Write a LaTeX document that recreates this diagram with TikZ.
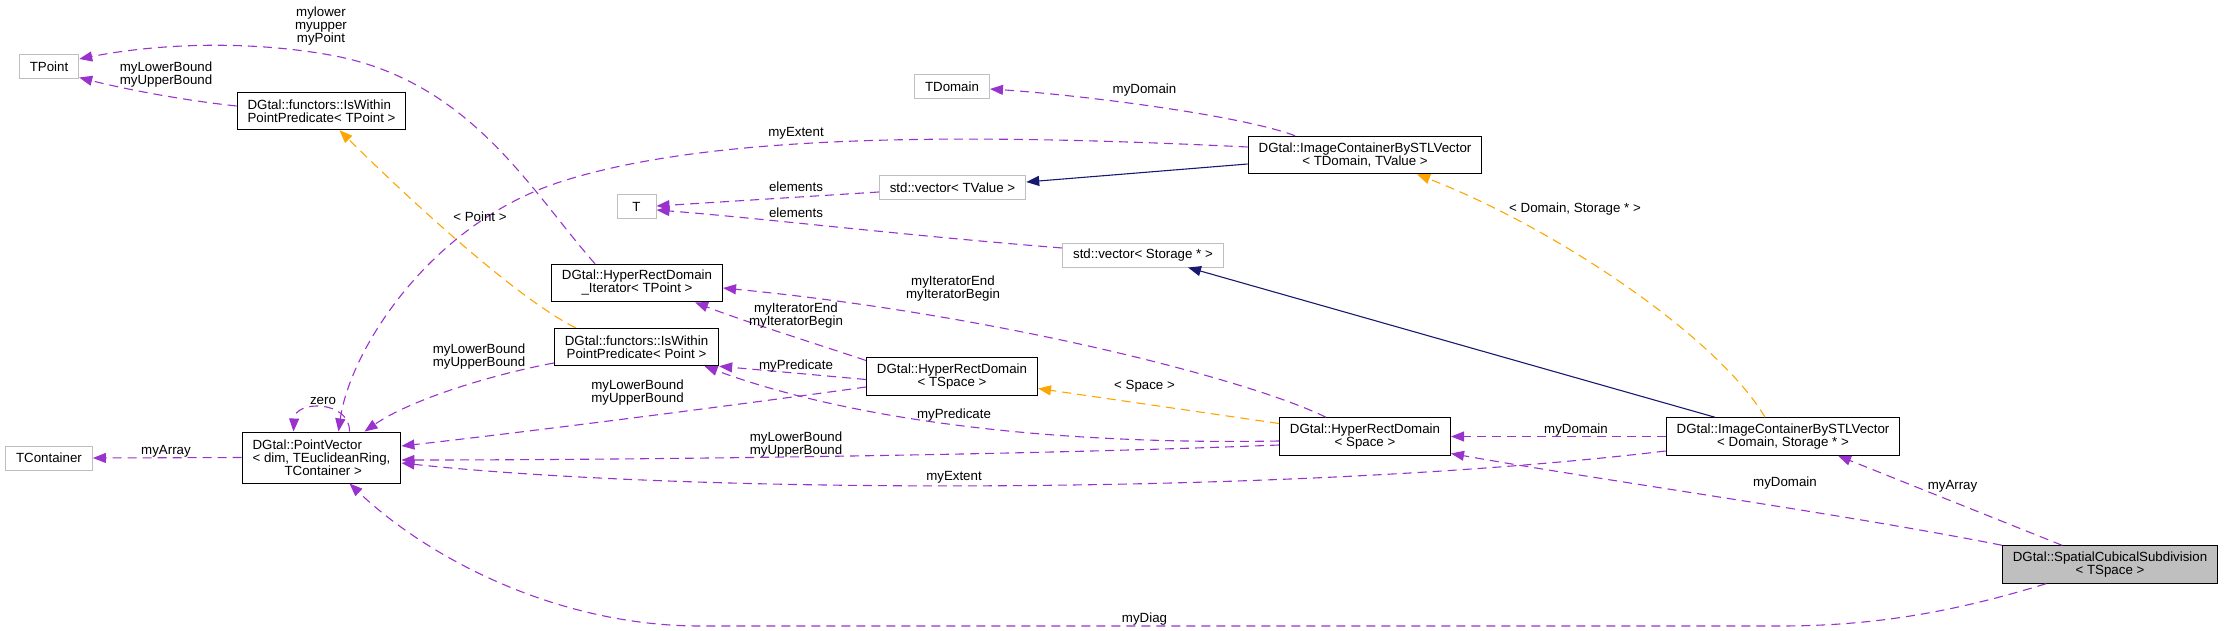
\documentclass[tikz,border=0pt]{standalone}
\usepackage{fontspec}
\setmainfont{Liberation Sans}
\usetikzlibrary{arrows.meta, calc}
\definecolor{orchid}{HTML}{9A32CD}
\definecolor{midblue}{HTML}{191970}
\definecolor{grey75}{HTML}{BFBFBF}
\definecolor{tplorange}{HTML}{FFA500}

\begin{document}
\begin{tikzpicture}[x=1pt, y=-1pt,
  font=\fontsize{13.3}{13}\selectfont,
  box/.style={draw=black, line width=1pt, inner xsep=10.5pt, inner ysep=2pt, minimum height=24pt, align=center},
  ext/.style={box, draw=grey75},
  two/.style={minimum height=37.5pt},
  lbl/.style={inner sep=0pt, align=center},
  assoc/.style={draw=orchid, line width=1.1pt, dash pattern=on 9pt off 6pt, -{Triangle[length=13pt, width=10pt, fill=orchid]}},
  tmpl/.style={assoc, draw=tplorange, -{Triangle[length=13pt, width=10pt, fill=tplorange]}},
  inherit/.style={draw=midblue, line width=1.1pt, -{Triangle[length=13pt, width=10pt, fill=midblue]}}]
\useasboundingbox (0,0) rectangle (2224,631);

% classes
\node[ext] (tpoint) at (49,67) {TPoint};
\node[box, two, align=left] (isTP) at (321.5,111) {DGtal::functors::IsWithin\\PointPredicate< TPoint >};
\node[ext] (tcont) at (49,458) {TContainer};
\node[box, minimum height=51pt, align=left] (pv) at (321.5,457.5) {DGtal::PointVector\\< dim, TEuclideanRing,\\\hspace*{32pt}TContainer >};
\node[ext] (tdom) at (952,87) {TDomain};
\node[ext, minimum width=39pt] (tval) at (636.5,207) {T};
\node[ext] (vecval) at (952.5,188) {std::vector< TValue >};
\node[box, two] (iter) at (637,283) {DGtal::HyperRectDomain\\\_Iterator< TPoint >};
\node[box, two] (isP) at (636.5,347) {DGtal::functors::IsWithin\\PointPredicate< Point >};
\node[box, two] (hrdTS) at (952,376.5) {DGtal::HyperRectDomain\\< TSpace >};
\node[box, two] (imgTD) at (1365,155) {DGtal::ImageContainerBySTLVector\\< TDomain, TValue >};
\node[ext] (vecsto) at (1143,255) {std::vector< Storage * >};
\node[box, two] (hrdS) at (1365,436.5) {DGtal::HyperRectDomain\\< Space >};
\node[box, two] (imgDS) at (1783,436.5) {DGtal::ImageContainerBySTLVector\\< Domain, Storage * >};
\node[box, two, fill=grey75] (scs) at (2110,564.5) {DGtal::SpatialCubicalSubdivision\\< TSpace >};

% edges
\draw[assoc] ($(isTP.west)+(0,-5)$) .. controls (180,100) and (120,88) .. ($(tpoint.south east)+(0,-2)$);
\draw[assoc] ($(iter.north)+(-42,0)$) .. controls (530,190) and (470,80) .. (330,55) .. controls (240,39) and (150,45) .. ($(tpoint.east)+(0,-8)$);
\draw[tmpl] ($(isP.north)+(-61,0)$) .. controls (520,300) and (420,210) .. ($(isTP.south)+(18,0)$);
\draw[assoc] ($(pv.north)+(28,0)$) .. controls (350,400) and (295,400) .. ($(pv.north)+(-28,0)$);
\draw[assoc] ($(imgTD.west)+(0,-8)$) .. controls (1000,135) and (720,130) .. (560,182) .. controls (430,224) and (350,350) .. ($(pv.north)+(17,0)$);
\draw[assoc] ($(imgTD.north)+(-70,0)$) .. controls (1240,115) and (1080,95) .. ($(tdom.east)+(0,2)$);
\draw[inherit] ($(imgTD.west)+(0,9)$) -- ($(vecval.east)+(0,-6)$);
\draw[assoc] ($(vecval.west)+(0,4)$) -- ($(tval.east)+(0,-1)$);
\draw[assoc] ($(vecsto.west)+(0,-7)$) .. controls (900,235) and (760,218) .. ($(tval.east)+(0,3)$);
\draw[inherit] ($(imgDS.north)+(-68,0)$) -- ($(vecsto.south)+(45,0)$);
\draw[tmpl] ($(imgDS.north)+(-18,0)$) .. controls (1720,340) and (1560,230) .. ($(imgTD.south)+(52,0)$);
\draw[assoc] ($(hrdS.north)+(-39,0)$) .. controls (1250,380) and (1000,315) .. ($(iter.east)+(0,5)$);
\draw[assoc] ($(hrdTS.west)+(0,-16)$) .. controls (820,345) and (740,320) .. ($(iter.south)+(58,0)$);
\draw[assoc] ($(hrdTS.west)+(0,3)$) -- (isP.south east);
\draw[assoc] ($(hrdS.west)+(0,4.5)$) .. controls (1050,445) and (850,420) .. ($(isP.south)+(68,0)$);
\draw[assoc] ($(isP.west)+(0,16)$) .. controls (490,375) and (410,400) .. ($(pv.north)+(43,0)$);
\draw[assoc] ($(hrdTS.west)+(0,10.5)$) .. controls (700,410) and (500,435) .. ($(pv.east)+(0,-11.5)$);
\draw[assoc] ($(hrdS.west)+(0,8.5)$) .. controls (1000,456) and (600,460) .. ($(pv.east)+(0,2.5)$);
\draw[assoc] ($(imgDS.west)+(0,14.5)$) .. controls (1300,495) and (700,495) .. ($(pv.east)+(0,5.5)$);
\draw[tmpl] ($(hrdS.west)+(0,-13)$) -- ($(hrdTS.east)+(0,12)$);
\draw[assoc] (imgDS.west) -- (hrdS.east);
\draw[assoc] (scs.north west) .. controls (1850,515) and (1600,480) .. ($(hrdS.east)+(0,17)$);
\draw[assoc] ($(scs.north)+(-48,0)$) -- ($(imgDS.south)+(55,0)$);
\draw[assoc] ($(scs.south)+(-64,0)$) .. controls (1960,610) and (1880,626) .. (1780,626) -- (700,626) .. controls (560,626) and (430,560) .. ($(pv.south)+(28,0)$);
\draw[assoc] (pv.west) -- (tcont.east);

% labels
\node[lbl] (lPoint) at (321,26) {mylower\\myupper\\myPoint};
\node[lbl] (lBoundTP) at (166,75) {myLowerBound\\myUpperBound};
\node[lbl] (lTplPoint) at (480,217) {< Point >};
\node[lbl] (lZero) at (323,401) {zero};
\node[lbl] (lExtTD) at (796,133) {myExtent};
\node[lbl] (lDomTD) at (1144.5,90) {myDomain};
\node[lbl] (lElemA) at (796,187) {elements};
\node[lbl] (lElemB) at (796,213) {elements};
\node[lbl] (lTplDS) at (1575,209) {< Domain, Storage * >};
\node[lbl] (lIterS) at (953,288.5) {myIteratorEnd\\myIteratorBegin};
\node[lbl] (lIterTS) at (796,315.5) {myIteratorEnd\\myIteratorBegin};
\node[lbl] (lPredTS) at (796,366) {myPredicate};
\node[lbl] (lPredS) at (954,415) {myPredicate};
\node[lbl] (lBoundP) at (479,356.5) {myLowerBound\\myUpperBound};
\node[lbl] (lBoundTS) at (637.5,392.5) {myLowerBound\\myUpperBound};
\node[lbl] (lBoundS) at (796,445) {myLowerBound\\myUpperBound};
\node[lbl] (lExtDS) at (954,477) {myExtent};
\node[lbl] (lTplSpace) at (1144.5,386) {< Space >};
\node[lbl] (lDomDS) at (1576,430) {myDomain};
\node[lbl] (lDomScs) at (1785,483) {myDomain};
\node[lbl] (lArrScs) at (1952.5,486) {myArray};
\node[lbl] (lDiag) at (1144.5,619) {myDiag};
\node[lbl] (lArrPV) at (166,451) {myArray};
\end{tikzpicture}
\end{document}
